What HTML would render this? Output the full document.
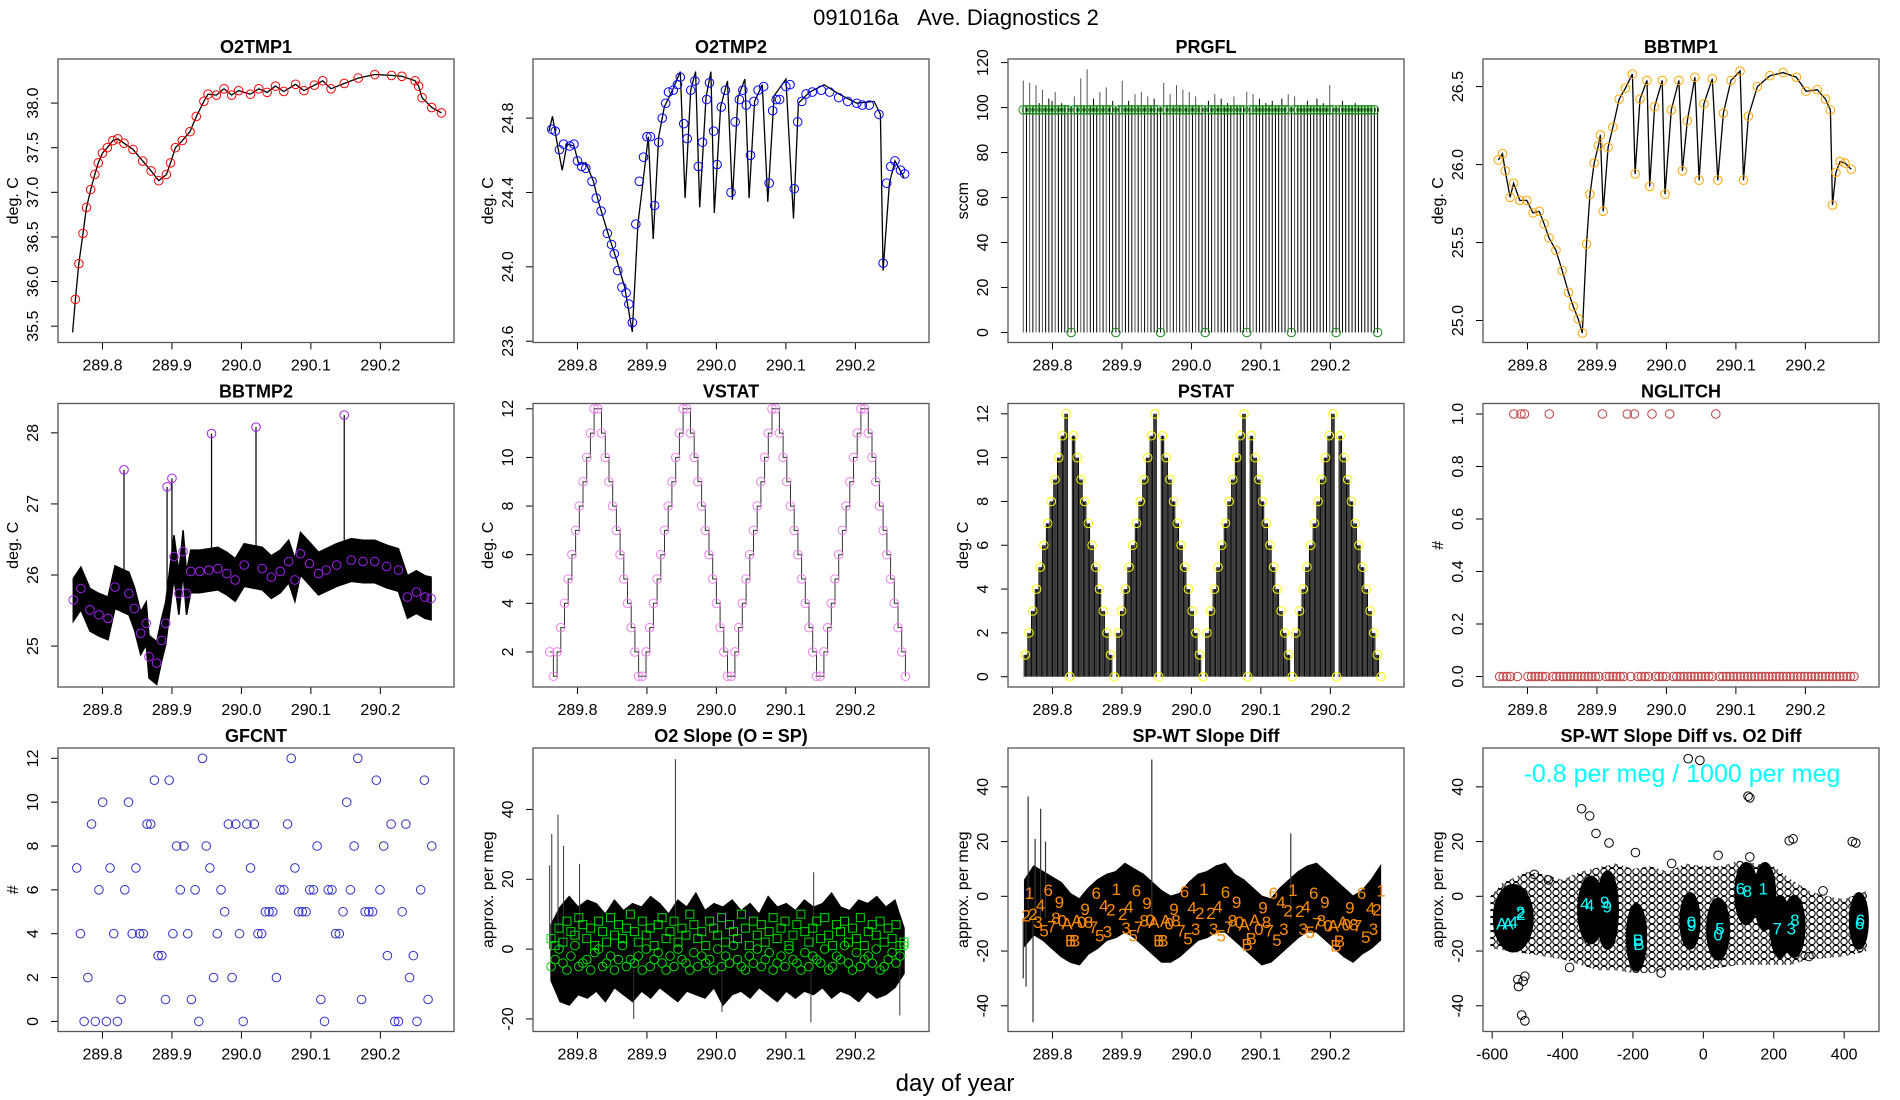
<!DOCTYPE html>
<html><head><meta charset="utf-8">
<style>
html,body{margin:0;padding:0;background:#fff;}
svg{display:block;font-family:"Liberation Sans",Arial,sans-serif;}
</style></head>
<body>
<svg id="chart" width="1900" height="1100" viewBox="0 0 1900 1100">
<defs>
<pattern id="cloudpat" width="8" height="7" patternUnits="userSpaceOnUse">
<circle cx="4" cy="3.5" r="3.2" fill="none" stroke="#000" stroke-width="1.1"/>
</pattern>
</defs>
<text x="956" y="25" text-anchor="middle" font-size="22" style="white-space:pre">091016a&#160;&#160;&#160;Ave. Diagnostics 2</text>
<text x="955" y="1091" text-anchor="middle" font-size="24">day of year</text>
</svg>
<script>
// ---------- data ----------
const timeTicks=[289.8,289.9,290.0,290.1,290.2];
const timeTickLabels=['289.8','289.9','290.0','290.1','290.2'];

const o2t1T=[289.757,289.761,289.766,289.772,289.777,289.783,289.789,289.794,289.800,289.807,289.815,289.822,289.831,289.844,289.858,289.870,289.881,289.892,289.898,289.905,289.915,289.926,289.935,289.946,289.952,289.964,289.975,289.986,289.996,290.013,290.025,290.037,290.049,290.061,290.078,290.090,290.105,290.117,290.129,290.148,290.168,290.192,290.216,290.231,290.250,290.255,290.260,290.274,290.288];
const o2t1V=[35.43,35.8,36.2,36.54,36.83,37.03,37.2,37.33,37.44,37.5,37.58,37.6,37.55,37.48,37.35,37.24,37.13,37.2,37.33,37.5,37.58,37.68,37.85,38.02,38.1,38.09,38.16,38.09,38.14,38.1,38.16,38.12,38.19,38.13,38.21,38.14,38.2,38.25,38.16,38.22,38.28,38.32,38.31,38.3,38.25,38.19,38.06,37.95,37.89];

const o2t2LineT=[289.759,289.764,289.772,289.778,289.785,289.795,289.802,289.812,289.823,289.831,289.844,289.857,289.868,289.879,289.887,289.895,289.902,289.909,289.917,289.925,289.938,289.948,289.955,289.963,289.970,289.976,289.985,289.992,289.997,290.006,290.016,290.023,290.031,290.041,290.047,290.055,290.066,290.074,290.083,290.100,290.111,290.118,290.134,290.155,290.176,290.202,290.227,290.236,290.240,290.249,290.257,290.270];
const o2t2LineV=[24.73,24.81,24.64,24.52,24.66,24.65,24.55,24.56,24.46,24.34,24.18,24.03,23.89,23.65,24.23,24.48,24.70,24.15,24.70,24.86,24.96,25.05,24.37,24.95,25.05,24.32,24.91,25.05,24.29,24.86,25.00,24.36,24.91,25.01,24.37,24.89,24.98,24.35,24.92,25.01,24.26,24.88,24.94,24.98,24.93,24.88,24.89,24.82,23.98,24.45,24.57,24.48];
const o2t2PtT=[289.763,289.768,289.774,289.780,289.789,289.795,289.800,289.806,289.812,289.821,289.827,289.834,289.843,289.849,289.853,289.858,289.864,289.870,289.874,289.879,289.884,289.889,289.895,289.900,289.905,289.911,289.917,289.922,289.927,289.931,289.938,289.944,289.948,289.953,289.958,289.963,289.969,289.974,289.980,289.986,289.990,289.996,290.001,290.007,290.013,290.021,290.027,290.033,290.038,290.043,290.049,290.054,290.060,290.068,290.076,290.081,290.086,290.091,290.100,290.106,290.112,290.117,290.123,290.129,290.138,290.151,290.163,290.176,290.189,290.202,290.210,290.220,290.234,290.240,290.245,290.251,290.257,290.265,290.271];
const o2t2PtV=[24.74,24.73,24.63,24.66,24.65,24.66,24.57,24.54,24.53,24.46,24.37,24.30,24.18,24.12,24.07,23.98,23.89,23.86,23.80,23.70,24.23,24.46,24.59,24.70,24.70,24.33,24.67,24.80,24.88,24.94,24.95,24.98,25.02,24.77,24.69,24.95,25.00,24.54,24.67,24.90,24.99,24.73,24.55,24.86,24.95,24.40,24.78,24.90,24.95,24.87,24.60,24.89,24.95,24.97,24.45,24.84,24.90,24.90,24.97,24.98,24.42,24.78,24.89,24.93,24.94,24.95,24.94,24.91,24.89,24.88,24.87,24.87,24.82,24.02,24.45,24.54,24.57,24.52,24.50];

const prgflStart=289.758, prgflEnd=290.268;
const prgflMax=[112,101,111,100,110,102,108,101,104,103,107,100,102,101,101,100,105,100,113,101,117,101,104,100,107,101,109,100,103,100,101,112,100,103,101,106,100,107,101,105,100,104,100,100,111,100,106,100,110,101,108,100,107,101,105,100,100,101,103,100,106,101,104,100,102,101,105,100,100,101,107,100,106,100,104,101,102,100,103,100,101,104,100,106,100,105,100,101,100,103,101,100,104,100,102,100,110,100,101,100,103,100,101,100,102,100,101,100,101,100,100,100];
const prgflMeanLevel=99;
const prgflZeroIdx=[15,29,43,57,70,84,98,111];

const bb1T=[289.758,289.764,289.768,289.775,289.780,289.789,289.799,289.808,289.817,289.824,289.831,289.841,289.850,289.859,289.866,289.873,289.879,289.885,289.890,289.896,289.902,289.905,289.909,289.916,289.923,289.932,289.941,289.951,289.955,289.962,289.972,289.976,289.983,289.994,289.998,290.007,290.018,290.023,290.030,290.041,290.047,290.054,290.066,290.074,290.082,290.093,290.106,290.111,290.118,290.131,290.149,290.168,290.187,290.201,290.217,290.229,290.236,290.239,290.244,290.250,290.257,290.266];
const bb1V=[26.03,26.07,25.96,25.79,25.88,25.77,25.77,25.69,25.70,25.62,25.53,25.45,25.32,25.18,25.09,25.01,24.92,25.49,25.81,26.01,26.12,26.19,25.70,26.11,26.24,26.42,26.49,26.58,25.94,26.42,26.54,25.86,26.37,26.54,25.81,26.35,26.54,25.96,26.28,26.56,25.90,26.39,26.55,25.90,26.33,26.54,26.60,25.90,26.31,26.50,26.57,26.59,26.56,26.47,26.48,26.42,26.35,25.74,25.95,26.02,26.01,25.97];

const bb2T=[289.758,289.769,289.782,289.795,289.808,289.818,289.838,289.846,289.855,289.863,289.867,289.878,289.885,289.891,289.903,289.910,289.916,289.921,289.927,289.940,289.953,289.966,289.979,289.991,290.004,290.030,290.043,290.056,290.068,290.077,290.085,290.098,290.111,290.122,290.137,290.158,290.175,290.192,290.209,290.226,290.239,290.252,290.264,290.273];
const bb2V=[25.65,25.81,25.51,25.44,25.39,25.83,25.74,25.53,25.18,25.32,24.85,24.76,25.08,25.32,26.26,25.74,26.33,25.74,26.05,26.05,26.07,26.09,26.02,25.93,26.14,26.09,25.97,26.05,26.19,25.93,26.30,26.16,26.02,26.07,26.14,26.21,26.19,26.19,26.12,26.07,25.69,25.76,25.69,25.67];
const bb2Spread=0.3;
const bb2SpikeT=[289.831,289.893,289.900,289.957,290.021,290.148];
const bb2SpikeV=[27.48,27.24,27.36,27.99,28.08,28.25];
const bb2SpikeBase=[25.8,25.4,26.2,26.1,26.1,26.2];

const vstatStart=289.760, vstatEnd=290.272;
const vstatV=[2,1,2,3,4,5,6,7,8,9,10,11,12,12,11,10,9,8,7,6,5,4,3,2,1,1,2,3,4,5,6,7,8,9,10,11,12,12,11,10,9,8,7,6,5,4,3,2,1,1,2,3,4,5,6,7,8,9,10,11,12,12,11,10,9,8,7,6,5,4,3,2,1,1,2,3,4,5,6,7,8,9,10,11,12,12,11,10,9,8,7,6,5,4,3,2,1];

const pstatStart=289.761, pstatEnd=290.273;
const pstatV=[1,2,3,4,5,6,7,8,9,10,11,12,0,11,10,9,8,7,6,5,4,3,2,1,0,2,3,4,5,6,7,8,9,10,11,12,0,11,10,9,8,7,6,5,4,3,2,1,0,2,3,4,5,6,7,8,9,10,11,12,0,11,10,9,8,7,6,5,4,3,2,1,0,2,3,4,5,6,7,8,9,10,11,12,0,11,10,9,8,7,6,5,4,3,2,1,0];

const nglStart=289.760, nglEnd=290.270;
const nglV=[0,0,0,0,1,0,1,1,0,0,0,0,0,0,1,0,0,0,0,0,0,0,0,0,0,0,0,0,0,1,0,0,0,0,0,0,1,0,1,0,0,0,0,1,0,0,0,0,1,0,0,0,0,0,0,0,0,0,0,0,0,1,0,0,0,0,0,0,0,0,0,0,0,0,0,0,0,0,0,0,0,0,0,0,0,0,0,0,0,0,0,0,0,0,0,0,0,0,0,0,0];

const gfStart=289.763, gfEnd=290.274;
const gfV=[7,4,0,2,9,0,6,10,0,7,4,0,1,6,10,4,7,4,4,9,9,11,3,3,1,11,4,8,6,8,4,1,6,0,12,8,7,2,4,6,5,9,2,9,4,0,9,7,9,4,4,5,5,5,2,6,6,9,12,7,5,5,5,6,6,8,1,0,6,6,4,4,5,10,6,8,12,1,5,5,5,11,6,8,3,9,0,0,5,9,2,3,0,6,11,1,8];

const slStart=289.762, slEnd=290.270;
const slHi=[7,12,15,12,14,13,10,14,11,13,12,15,13,10,14,12,16,11,13,12,14,11,13,10,15,12,13,11,14,12,13,16,12,11,14,13,15,12,14,6];
const slLo=[-9,-15,-16,-13,-14,-12,-15,-11,-13,-15,-12,-14,-11,-13,-15,-12,-13,-14,-11,-16,-13,-12,-14,-11,-13,-15,-12,-14,-12,-13,-11,-14,-12,-13,-15,-12,-14,-13,-11,-7];
const slSpikeT=[289.760,289.763,289.772,289.780,289.803,289.941,290.140,289.881,290.008,290.136,290.264];
const slSpikeV=[24,33,38.5,29.6,24.4,54.4,22,-20,-18,-21,-19];
const slCirc=[-5,-3,0,-4,-6,-2,1,-5,-4,-3,-6,-1,0,-5,-4,-2,-6,-3,1,-5,-3,-4,-2,-6,0,-5,-3,-1,-4,-6,-2,-5,0,-3,-4,-6,-1,-5,-2,-4,-3,-6,0,-5,-2,-4,1,-3,-5,-6,-2,-4,0,-5,-3,-1,-6,-4,-2,-5,0,-3,-4,-6,-1,-5,-2,-3,-4,0,-6,-5,-2,-3,1,-4,-6,-1,-5,-3,-2,-4,0,-6,-5,-3,-1,-4,-2,1];
const slSq=[3,1,6,2,8,5,4,9,7,3,6,1,8,5,2,9,4,7,3,6,10,5,2,8,4,6,1,7,9,3,5,8,2,6,4,10,7,3,5,1,8,6,4,9,2,7,5,3,10,6,1,8,4,7,2,5,9,3,6,8,1,4,7,10,5,2,6,8,3,9,4,1,7,5,8,2,6,3,9,1,5,7,4,8,2,6,3,7,1,2];

const dfStart=289.760, dfEnd=290.272;
const dfHi=[6,11,9,7,5,1,-1,3,6,8,9,12,10,8,5,2,0,1,5,8,9,11,12,8,6,3,0,-1,3,6,9,11,12,9,6,3,0,2,6,11];
const dfLo=[-18,-14,-16,-19,-22,-24,-25,-21,-19,-16,-15,-13,-15,-18,-21,-24,-24,-22,-19,-16,-15,-13,-13,-16,-19,-22,-25,-24,-21,-18,-15,-13,-13,-16,-19,-22,-24,-21,-19,-16];
const dfSpikeT=[289.758,289.762,289.765,289.772,289.775,289.783,289.790,289.943,290.143];
const dfSpikeV=[-30,-33,36.5,-46,21,32,20,50,23];
const dfLblT=[289.762,289.772,289.767,289.779,289.788,289.799,289.783,289.794,289.805,289.810,289.814,289.821,289.826,289.832,289.835,289.842,289.847,289.852,289.859,289.863,289.868,289.879,289.874,289.884,289.892,289.901,289.910,289.906,289.916,289.924,289.921,289.932,289.936,289.941,289.946,289.953,289.959,289.963,289.968,289.975,289.978,289.985,289.990,289.995,290.001,290.006,290.012,290.018,290.028,290.038,290.032,290.043,290.049,290.054,290.059,290.065,290.069,290.076,290.080,290.086,290.091,290.097,290.103,290.108,290.112,290.118,290.123,290.129,290.133,290.139,290.146,290.156,290.165,290.161,290.171,290.176,290.181,290.187,290.192,290.197,290.204,290.208,290.213,290.218,290.223,290.228,290.234,290.239,290.245,290.251,290.258,290.262,290.267,290.273];
const dfLblV=[-7,-6.4,1.2,-9.4,-12.5,-11,-3.1,2.4,-7.9,-2.1,-8.8,-10,-16.1,-16.1,-8.8,-9.4,-4.6,-9.4,-11.3,1.2,-14.3,-12.8,-3.3,-4.9,2.7,-6.4,-3.7,-11.5,-14.3,-11.3,2.1,-8.8,-2.5,-8.6,-9.4,-16.1,-16.1,-8.8,-10,-4.6,-8.8,-12.5,1.8,-15.5,-4,-11.9,-6.1,2.7,-6.1,-3.7,-11.9,-14.3,1.5,-11.3,-8.8,-2.1,-9.4,-10.3,-17.6,-15.5,-8.6,-11.9,-4,-9.4,-12.5,1.2,-15.9,-2.1,-11.9,-5.2,2.4,-5.4,-3.7,-11.9,-13.1,1.2,-10,-8.8,-2.1,-10.7,-10.7,-18,-16.4,-9.4,-10.3,-4,-10.3,-10.7,1.2,-14.9,-4.3,-11.9,-4.9,2.1];
const dfLblS=['2','2','1','3','5','7','4','6','8','9','0','A','B','B','A','0','9','8','7','6','5','3','4','2','1','2','4','3','5','7','6','8','9','0','A','B','B','A','0','9','8','7','6','5','4','3','2','1','2','4','3','5','6','7','8','9','0','A','B','B','A','0','9','8','7','6','5','4','3','2','1','2','4','3','5','6','7','8','9','0','A','B','B','A','0','9','8','7','6','5','4','3','2','1'];

const scTicks=[-600,-400,-200,0,200,400];
const scTickLabels=['-600','-400','-200','0','200','400'];
const cloudUpX=[-605,-570,-500,-450,-400,-350,-250,-200,-150,-100,-50,0,50,100,200,250,300,350,400,465];
const cloudUpY=[0,5,9,8,6,9,12,10,11,9,12,11,11,13,11,6,2,0,-1,2];
const cloudLoX=[465,400,300,250,200,150,100,0,-100,-150,-200,-250,-300,-350,-400,-450,-500,-605];
const cloudLoY=[-20,-22,-23,-25,-25,-25,-25,-27,-27,-28,-28,-27,-27,-25,-23,-22,-21,-19];
const blobX=[-540,-320,-272,-190,-38,42,122,175,218,258,442];
const blobY=[-8,-5,-5,-15,-9,-12,1,0,-11,-11,-9];
const blobRX=[54,34,28,26,26,30,30,28,26,28,24];
const blobRY=[12,12,14,12,10,11,11,12,11,11,10];
const outX=[-346,-323,-305,-268,-193,-43,-10,127,132,244,255,423,433,-527,-512,-525,-507,-516,-507,42,132,-480,-440,-380,-120,-90,300,340];
const outY=[32,29.4,23,19.5,16,50.3,49.7,36.6,36,20.3,21,20,19.5,-30.4,-31,-33,-29.2,-43.4,-45.5,15,14.4,8,6,-26,-28,12,-22,2];
const scLblX=[-573,-555,-540,-520,-518,-337,-323,-280,-273,-185,-183,-34,-33,47,42,105,125,170,210,250,260,446,444];
const scLblY=[-10,-10,-9.3,-5.7,-6.5,-2.6,-3.2,-2,-3.8,-16,-17.5,-9.3,-10.5,-11.7,-14,2.9,2,2.9,-11.7,-11.7,-8.7,-8.7,-10];
const scLblS=['A','A','4','2','2','4','4','9','9','B','B','0','9','5','0','6','8','1','7','3','8','6','6'];

// ---------- helpers ----------
const svg=document.getElementById('chart');
const NS=svg.namespaceURI;
function mk(tag,attrs,parent){const e=document.createElementNS(NS,tag);for(const k in attrs)e.setAttribute(k,attrs[k]);(parent||svg).appendChild(e);return e;}
function lin(d0,d1,r0,r1){return v=>r0+(v-d0)/(d1-d0)*(r1-r0);}
function evenT(a,b,n,i){return a+(b-a)*i/(n-1);}
const COLS=[58,533,1008,1483], ROWS=[59,403.5,748], PW=396, PH=283.5;
const TDOM=[289.736,290.306];

function panel(c,r,name,title,ytitle,ydom,yticks,ylabels,xdom,xticks,xlabels){
  const L=COLS[c],T=ROWS[r],R=L+PW,B=T+PH;
  const g=mk('g',{});
  
  
  const X=lin(xdom[0],xdom[1],L,R), Y=lin(ydom[0],ydom[1],B,T);
  const t=mk('text',{x:(L+R)/2,y:T-6,'text-anchor':'middle','font-size':18,'font-weight':'bold'},g);
  t.textContent=title;
  
  
  const yt=mk('text',{x:L-40,y:(T+B)/2,'text-anchor':'middle','font-size':16,transform:`rotate(-90 ${L-40} ${(T+B)/2})`},g);
  yt.textContent=ytitle;
  
  
  xticks.forEach((v,i)=>{
    const tk=mk('line',{x1:X(v),x2:X(v),y1:B,y2:B+7,stroke:'#000','stroke-width':1},g);
    
    
    const tl=mk('text',{x:X(v),y:B+28,'text-anchor':'middle','font-size':16},g);
    tl.textContent=xlabels[i];
    
    
  });
  yticks.forEach((v,i)=>{
    const tk=mk('line',{x1:L-7,x2:L,y1:Y(v),y2:Y(v),stroke:'#000','stroke-width':1},g);
    
    
    const tl=mk('text',{x:L-20,y:Y(v),'text-anchor':'middle','font-size':16,transform:`rotate(-90 ${L-20} ${Y(v)})`},g);
    tl.textContent=ylabels[i];
    
    
  });
  const marks=mk('g',{},g);
  
  
  const fr=mk('rect',{x:L,y:T,width:PW,height:PH,fill:'none',stroke:'#555','stroke-width':1.3},g);
  
  
  return {g:marks,X,Y,L,R,T,B};
}
function circ(p,x,y,col,name,r){const c=mk('circle',{cx:x,cy:y,r:r||4.3,fill:'none',stroke:col,'stroke-width':1},p.g);
  
  
  return c;}
function pathFrom(p,xs,ys,col,w,name){let d='';for(let i=0;i<xs.length;i++)d+=(i?'L':'M')+p.X(xs[i]).toFixed(1)+' '+p.Y(ys[i]).toFixed(1);
  const e=mk('path',{d:d,fill:'none',stroke:col,'stroke-width':w},p.g);
  
  
  return e;}
function vline(p,x,y0,y1,col,w,name){const e=mk('line',{x1:p.X(x),x2:p.X(x),y1:p.Y(y0),y2:p.Y(y1),stroke:col,'stroke-width':w},p.g);
  
  
  return e;}
function band(p,t0,t1,hi,lo,name){const n=hi.length;let d='';
  for(let i=0;i<n;i++)d+=(i?'L':'M')+p.X(evenT(t0,t1,n,i)).toFixed(1)+' '+p.Y(hi[i]).toFixed(1);
  for(let i=n-1;i>=0;i--)d+='L'+p.X(evenT(t0,t1,n,i)).toFixed(1)+' '+p.Y(lo[i]).toFixed(1);
  const e=mk('path',{d:d+'Z',fill:'#000',stroke:'#000','stroke-width':1.5,'stroke-linejoin':'miter'},p.g);
  
  
  return e;}

// ---------- panels ----------
let p=panel(0,0,'o2tmp1','O2TMP1','deg. C',[35.317,38.494],[35.5,36,36.5,37,37.5,38],['35.5','36.0','36.5','37.0','37.5','38.0'],TDOM,timeTicks,timeTickLabels);
pathFrom(p,o2t1T,o2t1V,'#000',1.3,'o2tmp1-line');
o2t1T.forEach((t,i)=>{if(i>0)circ(p,p.X(t),p.Y(o2t1V[i]),'#ff0000','o2tmp1-point');});

p=panel(1,0,'o2tmp2','O2TMP2','deg. C',[23.593,25.118],[23.6,24.0,24.4,24.8],['23.6','24.0','24.4','24.8'],TDOM,timeTicks,timeTickLabels);
pathFrom(p,o2t2LineT,o2t2LineV,'#000',1.3,'o2tmp2-line');
o2t2PtT.forEach((t,i)=>circ(p,p.X(t),p.Y(o2t2PtV[i]),'#0000ff','o2tmp2-point'));

p=panel(2,0,'prgfl','PRGFL','sccm',[-4.45,121.6],[0,20,40,60,80,100,120],['0','20','40','60','80','100','120'],TDOM,timeTicks,timeTickLabels);
prgflMax.forEach((v,i)=>{const t=evenT(prgflStart,prgflEnd,prgflMax.length,i);
  vline(p,t,0,v,v>104?'#555':'#000',1,'prgfl-stem');});
prgflMax.forEach((v,i)=>{const t=evenT(prgflStart,prgflEnd,prgflMax.length,i);
  const m=prgflZeroIdx.indexOf(i)>=0?0:prgflMeanLevel;
  circ(p,p.X(t),p.Y(m),'#1a8a1a','prgfl-point');});

p=panel(3,0,'bbtmp1','BBTMP1','deg. C',[24.859,26.677],[25.0,25.5,26.0,26.5],['25.0','25.5','26.0','26.5'],TDOM,timeTicks,timeTickLabels);
pathFrom(p,bb1T,bb1V,'#000',1.3,'bbtmp1-line');
bb1T.forEach((t,i)=>circ(p,p.X(t),p.Y(bb1V[i]),'#ffa500','bbtmp1-point'));

p=panel(0,1,'bbtmp2','BBTMP2','deg. C',[24.424,28.413],[25,26,27,28],['25','26','27','28'],TDOM,timeTicks,timeTickLabels);
{
  let d='';bb2T.forEach((t,i)=>{d+=(i?'L':'M')+p.X(t).toFixed(1)+' '+p.Y(bb2V[i]+bb2Spread).toFixed(1);});
  for(let i=bb2T.length-1;i>=0;i--)d+='L'+p.X(bb2T[i]).toFixed(1)+' '+p.Y(bb2V[i]-bb2Spread).toFixed(1);
  const e=mk('path',{d:d+'Z',fill:'#000',stroke:'#000','stroke-width':1.5},p.g);
  
  
}
bb2SpikeT.forEach((t,i)=>{vline(p,t,bb2SpikeBase[i],bb2SpikeV[i],'#000',1.2,'bbtmp2-spike');
  circ(p,p.X(t),p.Y(bb2SpikeV[i]),'#a020f0','bbtmp2-spike-point');});
bb2T.forEach((t,i)=>circ(p,p.X(t),p.Y(bb2V[i]),'#a020f0','bbtmp2-point'));

p=panel(1,1,'vstat','VSTAT','deg. C',[0.558,12.218],[2,4,6,8,10,12],['2','4','6','8','10','12'],TDOM,timeTicks,timeTickLabels);
{let d='';vstatV.forEach((v,i)=>{const x=p.X(evenT(vstatStart,vstatEnd,vstatV.length,i)).toFixed(1),y=p.Y(v).toFixed(1);d+=i?`H${x}V${y}`:`M${x} ${y}`;});
 const e=mk('path',{d:d,fill:'none',stroke:'#333','stroke-width':1},p.g);
 
 }
vstatV.forEach((v,i)=>circ(p,p.X(evenT(vstatStart,vstatEnd,vstatV.length,i)),p.Y(v),'#ee82ee','vstat-point'));

p=panel(2,1,'pstat','PSTAT','deg. C',[-0.47,12.47],[0,2,4,6,8,10,12],['0','2','4','6','8','10','12'],TDOM,timeTicks,timeTickLabels);
{const n=pstatV.length,dt=(pstatEnd-pstatStart)/(n-1);
 pstatV.forEach((v,i)=>{if(v>0){const t=evenT(pstatStart,pstatEnd,n,i);
   vline(p,t-dt*0.33,0,v,'#000',1,'pstat-stem');
   vline(p,t,0,v,'#000',1,'pstat-stem');
   vline(p,t+dt*0.33,0,v,'#000',1,'pstat-stem');}});
 pstatV.forEach((v,i)=>circ(p,p.X(evenT(pstatStart,pstatEnd,n,i)),p.Y(v),'#ffff00','pstat-point'));}

p=panel(3,1,'nglitch','NGLITCH','#',[-0.04,1.04],[0,0.2,0.4,0.6,0.8,1.0],['0.0','0.2','0.4','0.6','0.8','1.0'],TDOM,timeTicks,timeTickLabels);
nglV.forEach((v,i)=>circ(p,p.X(evenT(nglStart,nglEnd,nglV.length,i)),p.Y(v),'#c04040','nglitch-point'));

p=panel(0,2,'gfcnt','GFCNT','#',[-0.46,12.47],[0,2,4,6,8,10,12],['0','2','4','6','8','10','12'],TDOM,timeTicks,timeTickLabels);
gfV.forEach((v,i)=>circ(p,p.X(evenT(gfStart,gfEnd,gfV.length,i)),p.Y(v),'#3030c8','gfcnt-point'));

p=panel(1,2,'o2-slope','O2 Slope (O = SP)','approx. per meg',[-23.6,57.6],[-20,0,20,40],['-20','0','20','40'],TDOM,timeTicks,timeTickLabels);
band(p,slStart,slEnd,slHi,slLo,'o2-slope-band');
slSpikeT.forEach((t,i)=>vline(p,t,0,slSpikeV[i],'#333',1,'o2-slope-spike'));
slSq.forEach((v,i)=>{const x=p.X(evenT(slStart,slEnd,slSq.length,i)),y=p.Y(v);
  const s=mk('rect',{x:x-4,y:y-4,width:8,height:8,fill:'none',stroke:'#00dd00','stroke-width':1},p.g);
  
  });
slCirc.forEach((v,i)=>circ(p,p.X(evenT(slStart,slEnd,slCirc.length,i)),p.Y(v),'#00dd00','o2-slope-o-point'));

p=panel(2,2,'slope-diff','SP-WT Slope Diff','approx. per meg',[-49.4,54.2],[-40,-20,0,20,40],['-40','-20','0','20','40'],TDOM,timeTicks,timeTickLabels);
band(p,dfStart,dfEnd,dfHi,dfLo,'slope-diff-band');
dfSpikeT.forEach((t,i)=>vline(p,t,-8,dfSpikeV[i],'#333',1.2,'slope-diff-spike'));
dfLblT.forEach((t,i)=>{const e=mk('text',{x:p.X(t),y:p.Y(dfLblV[i])+6,'text-anchor':'middle','font-size':17,fill:'#ff8c00'},p.g);
  e.textContent=dfLblS[i];
  
  });

p=panel(3,2,'diff-vs-o2','SP-WT Slope Diff vs. O2 Diff','approx. per meg',[-49.4,54.2],[-40,-20,0,20,40],['-40','-20','0','20','40'],[-626,499],scTicks,scTickLabels);
{let d='';cloudUpX.forEach((x,i)=>{d+=(i?'L':'M')+p.X(x).toFixed(1)+' '+p.Y(cloudUpY[i]).toFixed(1);});
 cloudLoX.forEach((x,i)=>{d+='L'+p.X(x).toFixed(1)+' '+p.Y(cloudLoY[i]).toFixed(1);});
 const e=mk('path',{d:d+'Z',fill:'url(#cloudpat)',stroke:'none'},p.g);
 
 }
blobX.forEach((x,i)=>{const sx=PW/(499+626),sy=PH/(54.2+49.4);
  const e=mk('ellipse',{cx:p.X(x),cy:p.Y(blobY[i]),rx:blobRX[i]*sx,ry:blobRY[i]*sy,fill:'#000',stroke:'#000','stroke-width':3},p.g);
  
  });
outX.forEach((x,i)=>circ(p,p.X(x),p.Y(outY[i]),'#000','scatter-point'));
scLblX.forEach((x,i)=>{const e=mk('text',{x:p.X(x),y:p.Y(scLblY[i])+6,'text-anchor':'middle','font-size':17,fill:'#00ffff'},p.g);
  e.textContent=scLblS[i];
  
  });
{const e=mk('text',{x:1682,y:782,'text-anchor':'middle','font-size':25,fill:'#00ffff'},p.g);
 e.textContent='-0.8 per meg / 1000 per meg';
 
 }
</script>
</body></html>
